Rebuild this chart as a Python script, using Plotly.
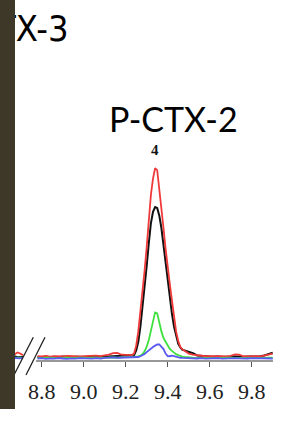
import plotly.graph_objects as go

# ---------------- data ----------------
tick_vals = [8.8, 9.0, 9.2, 9.4, 9.6, 9.8]
tick_text = ["8.8", "9.0", "9.2", "9.4", "9.6", "9.8"]
hidden_label = "8.6"   # label before the axis break, mostly covered

# segment before the axis break
x_pre = [8.665, 8.675, 8.685, 8.695, 8.705, 8.711]
red_pre = [1.0, 1.8, 2.4, 2.0, 1.2, 1.0]
black_pre = [0.0, 0.2, -0.1, 0.1, 0.0, 0.0]
green_pre = [-0.4, -0.3, -0.5, -0.4, -0.3, -0.4]
blue_pre = [-0.4, -0.6, -0.5, -0.7, -0.5, -0.6]

# main segment (retention time, min)
x_main = [8.78, 8.80, 8.82, 8.84, 8.86, 8.88, 8.90, 8.92, 8.94, 8.96, 8.98, 9.00,
          9.02, 9.04, 9.06, 9.08, 9.10, 9.12, 9.14, 9.16, 9.18, 9.20, 9.22,
          9.23, 9.24, 9.25, 9.26, 9.27, 9.28, 9.29, 9.30, 9.31, 9.32, 9.33, 9.34,
          9.35, 9.36, 9.37, 9.38, 9.39, 9.40, 9.41, 9.42, 9.43, 9.44, 9.45, 9.46,
          9.47, 9.48, 9.49, 9.50,
          9.52, 9.54, 9.56, 9.58, 9.60, 9.62, 9.64, 9.66, 9.68, 9.70, 9.72, 9.74,
          9.76, 9.78, 9.80, 9.82, 9.84, 9.86, 9.88, 9.90]

red = [0.5, 0.3, 0.6, 0.2, 0.5, 0.4, 0.3, 0.6, 0.4, 0.5, 0.3, 0.5,
       0.6, 0.4, 0.7, 0.5, 0.8, 1.2, 2.0, 2.2, 1.2, 1.0, 1.1,
       1.0, 1.8, 6.0, 13.5, 23.5, 35.0, 45.5, 58.0, 72.0, 85.5, 94.0, 99.5,
       98.5, 89.0, 79.0, 68.0, 57.0, 46.5, 38.5, 30.0, 20.5, 13.5, 8.5, 5.2,
       4.0, 3.3, 2.5, 1.8,
       1.2, 0.8, 0.6, 0.4, 0.5, 0.3, 0.4, 0.5, 0.3, 0.6, 1.4, 1.2,
       0.4, 0.3, 0.5, 0.4, 0.3, 0.6, 1.2, 1.8]

black = [0.0, -0.3, 0.2, -0.2, 0.1, -0.1, 0.2, 0.0, -0.2, 0.1, 0.0, 0.2,
         -0.1, 0.1, 0.0, 0.2, 0.1, 0.3, 0.4, 0.5, 0.4, 0.6, 0.8,
         0.8, 1.0, 3.5, 8.0, 16.0, 26.0, 37.0, 48.0, 60.0, 70.5, 76.5, 79.0,
         78.5, 74.5, 68.0, 59.0, 48.0, 38.5, 30.0, 23.0, 16.0, 11.0, 7.0, 5.0,
         3.8, 3.5, 3.2, 3.0,
         2.0, 0.8, 0.5, 0.3, 0.2, 0.1, 0.3, 0.0, 0.2, 0.1, 0.3, 0.2,
         0.0, 0.2, 0.3, 0.1, 0.4, 0.8, 1.5, 2.2]

green = [-0.4, -0.6, -0.3, -0.5, -0.4, -0.6, -0.5, -0.3, -0.5, -0.4, -0.6, -0.4,
         -0.5, -0.3, -0.4, -0.5, -0.3, -0.4, -0.2, -0.3, -0.2, -0.3, -0.2,
         -0.2, -0.1, 0.0, 0.3, 0.7, 1.5, 3.0, 5.4, 9.0, 14.0, 20.0, 23.5,
         23.0, 17.5, 13.5, 10.0, 8.0, 5.8, 4.3, 3.2, 2.2, 1.5, 1.0, 0.5,
         0.2, 0.0, -0.2, -0.3,
         -0.4, -0.5, -0.4, -0.5, -0.6, -0.5, -0.4, -0.6, -0.5, -0.4, -0.5, -0.6,
         -0.4, -0.5, -0.5, -0.6, -0.4, -0.5, -0.4, -0.3]

blue = [-0.8, -0.6, -1.0, -0.7, -0.9, -0.6, -0.8, -1.0, -0.7, -0.9, -0.6, -0.8,
        -0.7, -0.9, -0.6, -0.8, -0.5, -0.3, -0.2, -0.4, -0.3, -0.5, -0.4,
        -0.3, -0.2, -0.3, 0.0, 0.4, 0.9, 1.6, 2.6, 3.6, 4.5, 5.3, 6.0,
        6.6, 6.6, 5.6, 4.2, 1.8, 0.5, 0.4, 0.7, 0.5, 0.1, -0.2, -0.4,
        -0.5, -0.6, -0.7, -0.6,
        -0.7, -0.8, -0.6, -0.9, -0.7, -0.8, -0.6, -0.9, -0.7, -0.8, -0.6, -0.7,
        -0.9, -0.8, -0.6, -0.7, -0.8, -0.6, -0.7, -0.8]

axis_start, axis_end = 8.7729, 9.9014

# ---------------- figure ----------------
W, H = 282, 428
AX_PY = 361  # pixel row of the x axis
fig = go.Figure()

series = [("black", black_pre, black, "#111111", 2.0),
          ("red", red_pre, red, "#f03a3a", 1.8),
          ("green", green_pre, green, "#3ee03e", 1.8),
          ("blue", blue_pre, blue, "#5a5af0", 1.8)]
for name, ypre, ymain, col, lw in series:
    for xs, ys in ((x_pre, ypre), (x_main, ymain)):
        fig.add_trace(go.Scatter(x=xs, y=ys, mode="lines", name=name,
                                 line=dict(color=col, width=lw),
                                 showlegend=False, hoverinfo="skip"))

def py(p):  # pixel row -> paper y
    return (AX_PY - p) / AX_PY

def px(p):  # pixel column -> paper x
    return p / W

shapes = [
    dict(type="line", xref="x", yref="paper", x0=axis_start, x1=axis_end,
         y0=0, y1=0, line=dict(color="#333333", width=1.2)),
    dict(type="line", xref="paper", yref="paper", x0=px(14), y0=py(375),
         x1=px(33.3), y1=py(337.3), line=dict(color="#222222", width=1.3)),
    dict(type="line", xref="paper", yref="paper", x0=px(26), y0=py(375),
         x1=px(45), y1=py(337.3), line=dict(color="#222222", width=1.3)),
]

narrow = "Liberation Sans Narrow, DejaVu Sans Condensed, Lato, sans-serif"
annotations = [
    dict(text="P-CTX-2", xref="paper", yref="paper", x=px(173.5), y=py(118.5),
         xanchor="center", yanchor="middle", showarrow=False,
         font=dict(family="Lato, Liberation Sans, sans-serif", size=34, color="#000000")),
    dict(text="P-CTX-3", xref="paper", yref="paper", x=px(71), y=py(28.5),
         xanchor="right", yanchor="middle", showarrow=False,
         font=dict(family=narrow, size=36, color="#000000")),
    dict(text="<b>4</b>", xref="paper", yref="paper", x=px(155), y=py(150),
         xanchor="center", yanchor="middle", showarrow=False,
         font=dict(family="Liberation Serif, serif", size=15, color="#111111")),
    dict(text=hidden_label, xref="paper", yref="paper", x=px(16), y=py(392),
         xanchor="right", yanchor="middle", showarrow=False,
         font=dict(family="Liberation Serif, serif", size=22, color="#222222")),
    dict(text=" ", xref="paper", yref="paper", x=0, y=1, xanchor="left", yanchor="top",
         width=15, height=409, bgcolor="#3e3829", borderpad=0, borderwidth=0,
         showarrow=False, font=dict(size=2)),
]

fig.update_layout(
    width=W, height=H,
    margin=dict(l=0, r=0, t=0, b=H - AX_PY, pad=0),
    paper_bgcolor="white", plot_bgcolor="white",
    showlegend=False,
    xaxis=dict(range=[8.60143, 9.94429], showgrid=False, zeroline=False,
               showline=False, ticks="outside", ticklen=5, tickwidth=1,
               tickcolor="#555555", tickvals=tick_vals, ticktext=tick_text,
               ticklabelstandoff=6,
               tickfont=dict(family="Liberation Serif, serif", size=22, color="#222222"),
               fixedrange=True),
    yaxis=dict(range=[-2.11, 188.2], visible=False, fixedrange=True),
    shapes=shapes,
    annotations=annotations,
)

fig.write_html("out.html", config={"displayModeBar": False},
               post_script="document.body.style.margin='0';document.body.style.overflow='hidden';")
